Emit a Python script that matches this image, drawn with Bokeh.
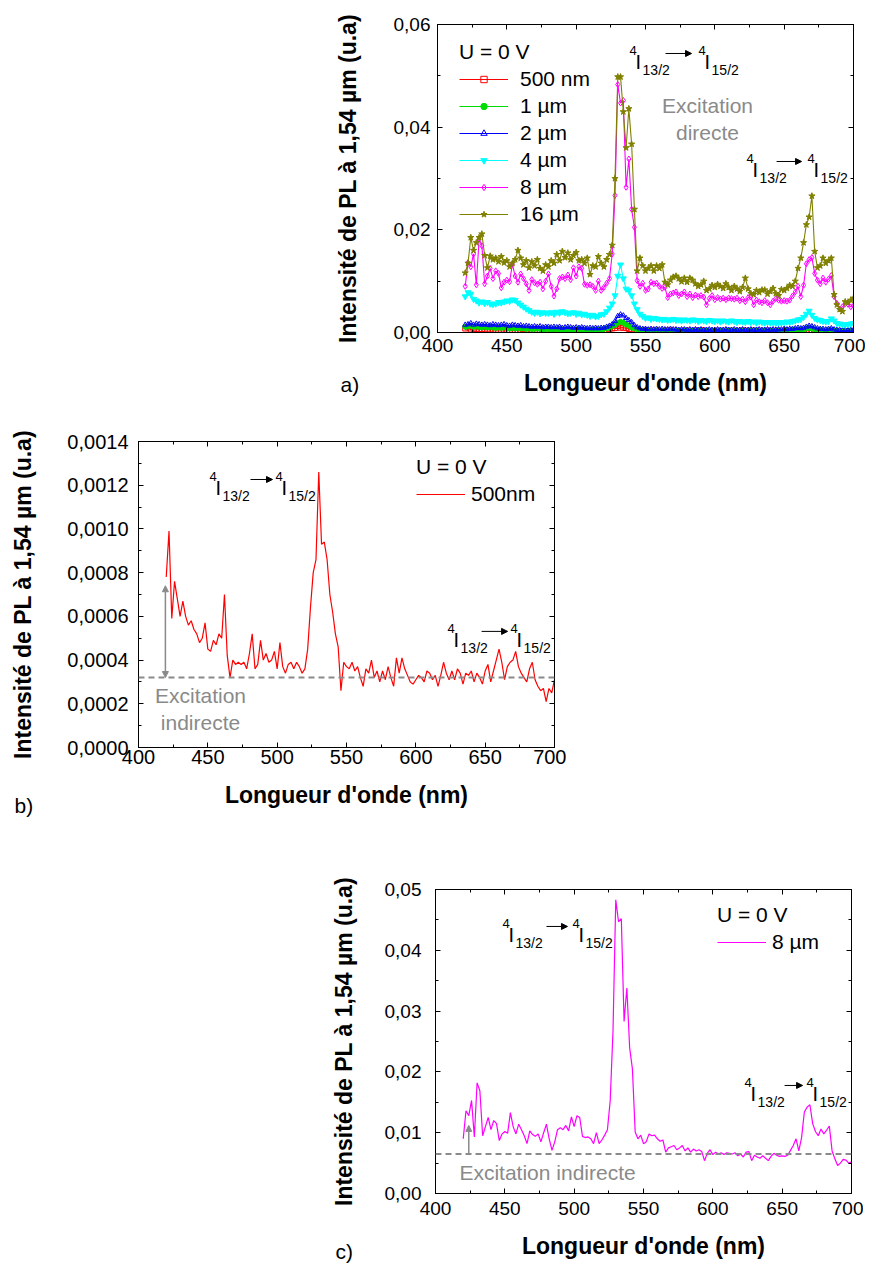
from bokeh.plotting import figure
from bokeh.models import (Range1d, SingleIntervalTicker, CustomJSTickFormatter, LinearAxis,
                          Legend, LegendItem, Label, Arrow, NormalHead, Span, Spacer, Title)
from bokeh.layouts import column, row
from bokeh.embed import file_html
from bokeh.resources import INLINE

FONT = "Liberation Sans"
GRAY = "#8a8a8a"

# ---------------- data ----------------
wavelength = list(range(420, 701, 2))  # nm

# 500 nm film (panel b and panel a), units of 1e-4
pl_500nm_e4 = [
    7.8, 9.9, 5.9, 7.6, 6.8, 6.0, 6.7, 6.0, 5.6, 5.8,
    5.4, 5.2, 4.8, 5.0, 5.7, 4.5, 4.4, 4.9, 4.7, 5.2,
    5.0, 7.0, 4.2, 3.2, 4.0, 3.8, 3.9, 3.8, 3.9, 3.6,
    4.3, 5.2, 3.6, 3.8, 4.9, 4.0, 4.3, 3.9, 4.0, 4.4,
    3.6, 4.8, 3.7, 3.4, 3.8, 3.9, 3.6, 3.9, 3.7, 3.4,
    3.6, 4.5, 6.4, 8.0, 8.6, 12.6, 9.3, 9.4, 8.6, 7.0,
    6.2, 5.2, 4.6, 2.6, 3.9, 3.7, 3.6, 3.9, 3.5, 3.7,
    3.2, 2.8, 3.6, 3.4, 4.0, 3.2, 3.5, 3.0, 3.5, 3.1,
    3.7, 3.2, 2.8, 4.1, 3.4, 4.1, 3.6, 3.3, 3.0, 2.9,
    3.1, 3.3, 3.2, 3.0, 3.5, 3.4, 3.1, 3.3, 2.8, 3.3,
    3.9, 3.4, 3.1, 3.5, 3.1, 3.6, 3.4, 2.9, 3.4, 3.3,
    3.5, 3.0, 3.4, 3.2, 2.9, 3.5, 3.8, 3.0, 3.5, 4.0,
    4.5, 3.9, 3.1, 3.7, 3.9, 4.0, 4.4, 3.7, 3.4, 3.2,
    3.0, 3.6, 3.9, 3.1, 2.8, 2.6, 2.7, 2.1, 2.7, 2.5,
    3.1]

# 1 um, units of 1e-3
pl_1um_e3 = [
    1.1, 1.2, 1.3, 1.1, 1.2, 1.1, 1.0, 1.1, 1.0, 1.1,
    1.0, 0.9, 1.0, 0.9, 1.0, 0.9, 0.8, 0.9, 0.8, 0.9,
    0.8, 0.8, 0.7, 0.8, 0.7, 0.7, 0.8, 0.7, 0.6, 0.7,
    0.7, 0.6, 0.7, 0.6, 0.7, 0.6, 0.6, 0.7, 0.6, 0.6,
    0.6, 0.7, 0.6, 0.5, 0.6, 0.5, 0.6, 0.5, 0.6, 0.6,
    0.7, 0.8, 1.0, 1.2, 1.5, 1.9, 2.1, 1.9, 1.6, 1.3,
    1.0, 0.8, 0.6, 0.5, 0.4, 0.4, 0.4, 0.3, 0.4, 0.4,
    0.3, 0.4, 0.3, 0.4, 0.3, 0.3, 0.4, 0.3, 0.3, 0.4,
    0.3, 0.3, 0.4, 0.3, 0.3, 0.4, 0.3, 0.3, 0.3, 0.4,
    0.3, 0.3, 0.4, 0.3, 0.3, 0.3, 0.4, 0.3, 0.3, 0.3,
    0.4, 0.3, 0.3, 0.3, 0.4, 0.3, 0.3, 0.3, 0.4, 0.3,
    0.3, 0.3, 0.3, 0.4, 0.3, 0.4, 0.4, 0.4, 0.5, 0.5,
    0.5, 0.6, 0.6, 0.8, 0.9, 0.8, 0.6, 0.5, 0.5, 0.4,
    0.4, 0.4, 0.5, 0.4, 0.3, 0.3, 0.3, 0.3, 0.3, 0.3,
    0.3]

# 2 um, units of 1e-3
pl_2um_e3 = [
    1.5, 1.6, 1.8, 1.5, 1.7, 1.6, 1.5, 1.6, 1.5, 1.4,
    1.6, 1.5, 1.4, 1.5, 1.6, 1.4, 1.3, 1.5, 1.4, 1.3,
    1.4, 1.2, 1.3, 1.2, 1.1, 1.2, 1.1, 1.2, 1.0, 1.1,
    1.1, 1.0, 1.1, 1.0, 1.1, 0.9, 1.0, 1.1, 1.0, 0.9,
    1.0, 0.9, 1.0, 0.9, 0.8, 0.9, 0.8, 0.9, 0.8, 0.9,
    0.9, 1.1, 1.3, 1.6, 2.2, 3.2, 3.5, 3.3, 2.8, 2.4,
    2.0, 1.4, 1.0, 0.8, 0.7, 0.7, 0.6, 0.7, 0.6, 0.7,
    0.6, 0.7, 0.6, 0.6, 0.7, 0.6, 0.6, 0.5, 0.6, 0.6,
    0.5, 0.6, 0.5, 0.6, 0.5, 0.6, 0.5, 0.5, 0.6, 0.5,
    0.5, 0.6, 0.5, 0.5, 0.6, 0.5, 0.5, 0.6, 0.5, 0.5,
    0.6, 0.5, 0.5, 0.6, 0.5, 0.5, 0.6, 0.5, 0.5, 0.6,
    0.5, 0.6, 0.5, 0.6, 0.6, 0.7, 0.6, 0.7, 0.7, 0.8,
    0.9, 0.8, 0.9, 1.1, 1.3, 1.2, 1.0, 0.8, 0.7, 0.7,
    0.6, 0.7, 0.8, 0.6, 0.5, 0.5, 0.4, 0.5, 0.4, 0.5,
    0.5]

# 4 um, units of 1e-3
pl_4um_e3 = [
    7.0, 7.8, 7.5, 6.5, 6.2, 5.8, 6.0, 5.7, 5.9, 5.6,
    5.5, 5.6, 5.9, 5.8, 6.0, 6.2, 6.1, 6.4, 6.3, 5.8,
    5.4, 5.0, 4.6, 4.3, 4.0, 3.8, 4.0, 3.7, 3.9, 3.8,
    3.8, 3.9, 3.6, 4.0, 3.8, 4.1, 3.9, 3.7, 3.8, 3.9,
    3.6, 3.8, 3.5, 3.6, 3.4, 3.2, 3.4, 3.1, 3.2, 3.5,
    3.6, 4.1, 4.8, 5.6, 7.2, 11.0, 13.2, 10.5, 8.5, 8.2,
    7.2, 5.6, 4.5, 3.6, 3.2, 2.8, 2.9, 2.6, 2.8, 2.7,
    2.6, 2.5, 2.6, 2.4, 2.5, 2.6, 2.4, 2.5, 2.3, 2.5,
    2.4, 2.3, 2.5, 2.4, 2.2, 2.4, 2.3, 2.2, 2.4, 2.3,
    2.2, 2.3, 2.1, 2.3, 2.2, 2.1, 2.3, 2.2, 2.0, 2.2,
    2.1, 2.0, 2.2, 2.0, 2.1, 1.9, 2.1, 2.0, 1.9, 2.0,
    1.9, 2.0, 1.8, 2.0, 1.9, 2.0, 2.1, 2.0, 2.2, 2.3,
    2.5, 2.6, 3.0, 3.6, 4.2, 3.4, 2.8, 2.5, 2.4, 2.2,
    2.1, 2.2, 2.7, 2.3, 1.8, 1.7, 1.6, 1.5, 1.6, 1.7,
    1.8]

# 8 um film (panel c and panel a), units of 1e-3
pl_8um_e3 = [
    9.0, 13.6, 12.8, 15.3, 9.3, 18.2, 16.9, 9.5, 11.0, 12.5,
    10.5, 12.0, 11.5, 8.7, 9.8, 10.2, 9.9, 13.3, 11.0, 9.8,
    11.4, 10.5, 9.5, 8.2, 10.3, 9.7, 9.4, 9.8, 8.5, 10.0,
    11.4, 9.0, 7.1, 8.5, 10.5, 10.8, 10.5, 11.2, 10.3, 12.6,
    11.0, 12.8, 12.5, 9.4, 9.2, 9.3, 9.0, 8.2, 10.0, 8.2,
    8.8, 9.6, 10.5, 15.3, 26.7, 48.3, 44.7, 45.2, 28.3, 33.8,
    24.0, 20.5, 10.1, 9.0, 9.6, 8.2, 8.5, 9.8, 9.5, 9.6,
    9.0, 8.6, 8.8, 6.8, 7.5, 7.7, 7.9, 7.2, 7.5, 7.9,
    7.0, 7.5, 6.8, 7.3, 7.0, 7.2, 6.9, 5.4, 6.6, 7.2,
    6.4, 6.8, 6.5, 6.7, 6.4, 6.7, 6.6, 6.5, 6.7, 6.2,
    6.5, 6.0, 6.8, 6.9, 5.4, 6.3, 6.0, 5.8, 6.2, 5.8,
    5.4, 6.1, 6.6, 6.3, 6.1, 6.2, 6.1, 6.3, 7.1, 7.9,
    9.0, 7.0, 9.2, 13.4, 14.2, 14.6, 11.5, 10.2, 9.5, 10.6,
    9.8, 10.4, 11.1, 7.0, 5.7, 4.6, 5.0, 5.6, 5.5, 5.0,
    5.2]

# 16 um, units of 1e-3
pl_16um_e3 = [
    11.6, 13.5, 18.5, 16.0, 17.5, 18.5, 19.2, 15.0, 12.6, 14.9,
    14.2, 14.5, 13.8, 14.8, 13.6, 14.0, 12.8, 13.5, 14.2, 16.0,
    14.5, 13.2, 14.0, 12.6, 13.8, 13.0, 14.2, 12.5, 12.0, 13.2,
    12.8, 14.0, 13.5, 15.2, 14.0, 15.8, 14.6, 15.5, 14.2, 15.0,
    15.6, 14.0, 14.2, 13.5, 14.5, 11.3, 13.0, 12.8, 14.8, 13.5,
    12.8, 14.2, 15.2, 17.0, 30.0, 49.8, 49.8, 43.0, 36.0, 43.6,
    36.7, 24.0, 12.0, 14.5, 13.0, 12.0, 12.5, 13.0, 12.0, 13.0,
    12.5, 13.2, 9.8, 9.3, 10.2, 10.8, 11.0, 10.5, 9.9, 10.6,
    9.8, 10.6, 10.2, 9.5, 9.0, 9.3, 10.0, 8.2, 8.5, 9.2,
    8.8, 9.4, 9.0, 8.6, 9.5, 8.8, 8.2, 9.0, 8.5, 8.0,
    8.8, 10.6, 8.5, 7.6, 7.4, 8.2, 7.8, 8.3, 8.3, 7.5,
    8.0, 8.6, 7.6, 7.2, 8.4, 8.2, 8.6, 9.2, 9.0, 10.0,
    12.5, 14.5, 17.5, 21.0, 22.5, 26.6, 15.8, 12.6, 13.0, 14.5,
    13.5, 14.0, 14.5, 7.4, 5.4, 4.5, 4.1, 6.0, 5.8, 6.3,
    6.7]

pl_500nm = [v * 1e-4 for v in pl_500nm_e4]
pl_1um = [v * 1e-3 for v in pl_1um_e3]
pl_2um = [v * 1e-3 for v in pl_2um_e3]
pl_4um = [v * 1e-3 for v in pl_4um_e3]
pl_8um = [v * 1e-3 for v in pl_8um_e3]
pl_16um = [v * 1e-3 for v in pl_16um_e3]

series_labels = ["500 nm", "1 µm", "2 µm", "4 µm", "8 µm", "16 µm"]
series_values = [pl_500nm, pl_1um, pl_2um, pl_4um, pl_8um, pl_16um]

baseline_500nm = 0.00032
baseline_8um = 0.0065

X_TITLE = "Longueur d'onde (nm)"
Y_TITLE = "Intensité de PL à 1,54 µm (u.a)"

FRAME_W = 416
BORDER_L = 138
BORDER_R = 12
FIG_W = BORDER_L + FRAME_W + BORDER_R


def make_fig(ymax, ytick, digits, h, bt, bb, tick_fs, xls, xas, yls, yas):
    p = figure(width=FIG_W, height=h, x_range=Range1d(400, 700), y_range=Range1d(0, ymax),
               output_backend="svg", toolbar_location=None,
               min_border_left=BORDER_L, min_border_right=BORDER_R,
               min_border_top=bt, min_border_bottom=bb,
               x_axis_label=X_TITLE, y_axis_label=Y_TITLE)
    p.xgrid.visible = False
    p.ygrid.visible = False
    p.outline_line_color = "black"
    p.outline_line_alpha = 1
    p.outline_line_width = 1
    p.background_fill_color = "white"
    p.border_fill_color = "white"
    bottom = p.below[0]
    left = p.left[0]
    bottom.ticker = SingleIntervalTicker(interval=50, num_minor_ticks=2)
    left.ticker = SingleIntervalTicker(interval=ytick, num_minor_ticks=2)
    left.formatter = CustomJSTickFormatter(
        code="return tick.toFixed(%d).replace('.', ',');" % digits)
    top = LinearAxis(ticker=SingleIntervalTicker(interval=50, num_minor_ticks=2))
    right = LinearAxis(ticker=SingleIntervalTicker(interval=ytick, num_minor_ticks=2))
    p.add_layout(top, "above")
    p.add_layout(right, "right")
    for ax in [bottom, left, top, right]:
        ax.axis_line_color = "black"
        ax.axis_line_width = 1
        ax.major_tick_in = 5
        ax.major_tick_out = 0
        ax.minor_tick_in = 3
        ax.minor_tick_out = 0
        ax.major_tick_line_color = "black"
        ax.minor_tick_line_color = "black"
        ax.major_label_text_font = FONT
        ax.major_label_text_color = "black"
        ax.major_label_text_font_size = "%dpx" % tick_fs
        ax.axis_label_text_font = FONT
        ax.axis_label_text_font_style = "bold"
        ax.axis_label_text_font_size = "23px"
        ax.axis_label_text_color = "black"
    for ax in [top, right]:
        ax.major_label_text_font_size = "1px"
        ax.major_label_text_color = None
        ax.major_label_standoff = 0
    bottom.major_label_standoff = xls
    bottom.axis_label_standoff = xas
    left.major_label_standoff = yls
    left.axis_label_standoff = yas
    return p


def transition(p, x0, y0, dpx, dpy, a0, alen, s2):
    kw = dict(text_font=FONT, text_color="black", text_baseline="alphabetic", text_align="left")
    for off in (0, s2):
        p.add_layout(Label(x=x0, y=y0, x_offset=off, y_offset=12, text="4",
                           text_font_size="13px", **kw))
        p.add_layout(Label(x=x0, y=y0, x_offset=off + 6, y_offset=0, text="I",
                           text_font_size="20px", **kw))
    p.add_layout(Label(x=x0, y=y0, x_offset=13, y_offset=-8, text="13/2",
                       text_font_size="14px", **kw))
    p.add_layout(Label(x=x0, y=y0, x_offset=s2 + 13, y_offset=-8, text="15/2",
                       text_font_size="14px", **kw))
    ya = y0 + 9 * dpy
    p.add_layout(Arrow(x_start=x0 + a0 * dpx, y_start=ya, x_end=x0 + (a0 + alen) * dpx, y_end=ya,
                       line_color="black", line_width=1,
                       end=NormalHead(size=6, fill_color="black", line_color="black")))


def gray_text(p, x, y, txt):
    p.add_layout(Label(x=x, y=y, text=txt, text_font=FONT, text_font_size="21px",
                       text_color=GRAY, text_align="center", text_baseline="middle"))


def panel_tag(p, left_offset, pull_up, txt):
    # panel letter drawn in the bottom side panel (annotations in the frame are clipped)
    t = Title(text=txt, align="left", offset=left_offset, vertical_align="top",
              text_font=FONT, text_font_size="21px", text_font_style="normal",
              text_color="black")
    try:
        t.standoff = -pull_up
    except Exception:
        pass
    p.add_layout(t, "below")


def style_legend(leg, standoff):
    leg.border_line_alpha = 0
    leg.background_fill_alpha = 0
    leg.label_text_font = FONT
    leg.label_text_font_size = "21px"
    leg.label_text_color = "black"
    leg.title_text_font = FONT
    leg.title_text_font_size = "21px"
    leg.title_text_font_style = "normal"
    leg.title_text_color = "black"
    leg.title_standoff = 3
    leg.glyph_width = 49
    leg.glyph_height = 16
    leg.label_height = 16
    leg.spacing = 3
    leg.padding = 5
    leg.margin = 0
    leg.label_standoff = standoff


DPX = 300.0 / FRAME_W

# ---------------- panel a ----------------
pa = make_fig(0.06, 0.02, 2, 420, 24, 88, 19, 6, 15, 7, 30)
colors = ["#FF0000", "#00DD00", "#0000FF", "#00FFFF", "#FF00FF", "#808000"]
markers = ["square", "circle", "triangle", "inverted_triangle", "diamond", "star"]
filled = [False, True, False, True, False, True]
msize = [5, 5, 5, 6, 6, 6.5]
items = []
for lab, ys, c, m, f, s in zip(series_labels, series_values, colors, markers, filled, msize):
    lr = pa.line(wavelength, ys, line_color=c, line_width=1.1)
    sr = pa.scatter(wavelength, ys, marker=m, size=s, line_color=c, line_width=1,
                    fill_color=c, fill_alpha=1.0 if f else 0.0)
    items.append(LegendItem(label=lab, renderers=[lr, sr]))
leg_a = Legend(items=items, location=(17, 101), title="U = 0 V")
style_legend(leg_a, 12)
pa.add_layout(leg_a)
dpy_a = 0.06 / 308
transition(pa, 538.5, 0.0526, DPX, dpy_a, 36, 26, 69)
transition(pa, 622.9, 0.03156, DPX, dpy_a, 30, 25, 61)
gray_text(pa, 594.7, 0.0442, "Excitation")
gray_text(pa, 594.7, 0.0390, "directe")
panel_tag(pa, -97, 52, "a)")

# ---------------- panel b ----------------
pb = make_fig(0.0014, 0.0002, 4, 410, 21, 83, 20, 2, 15, 10, 28)
pb.add_layout(Span(location=baseline_500nm, dimension="width", line_color=GRAY,
                   line_dash="6 4", line_width=2))
lb = pb.line(wavelength, pl_500nm, line_color="#FF0000", line_width=1.2)
leg_b = Legend(items=[LegendItem(label="500nm", renderers=[lb])], location=(273, 236),
               title="U = 0 V")
style_legend(leg_b, 6)
pb.add_layout(leg_b)
pb.add_layout(Arrow(x_start=419.4, y_start=baseline_500nm, x_end=419.4, y_end=0.00074,
                    line_color=GRAY, line_width=1.5,
                    start=NormalHead(size=6, fill_color=GRAY, line_color=GRAY),
                    end=NormalHead(size=6, fill_color=GRAY, line_color=GRAY)))
dpy_b = 0.0014 / 306
transition(pb, 451.2, 0.001185, DPX, dpy_b, 41, 22, 66)
transition(pb, 622.9, 0.000490, DPX, dpy_b, 34, 26, 63)
gray_text(pb, 444.7, 0.000236, "Excitation")
gray_text(pb, 444.7, 0.000114, "indirecte")
panel_tag(pb, -124, 34, "b)")

# ---------------- panel c ----------------
pc = make_fig(0.05, 0.01, 2, 433, 59, 70, 19, 8, 15, 14, 25)
pc.add_layout(Span(location=baseline_8um, dimension="width", line_color=GRAY,
                   line_dash="6 4", line_width=2))
lc = pc.line(wavelength, pl_8um, line_color="#FF00FF", line_width=1.2)
leg_c = Legend(items=[LegendItem(label="8 µm", renderers=[lc])], location=(277, 234),
               title="U = 0 V")
style_legend(leg_c, 6)
pc.add_layout(leg_c)
pc.add_layout(Arrow(x_start=424.0, y_start=baseline_8um, x_end=424.0, y_end=0.0112,
                    line_color=GRAY, line_width=1.5,
                    end=NormalHead(size=6, fill_color=GRAY, line_color=GRAY)))
dpy_c = 0.05 / 304
transition(pc, 448.3, 0.04244, DPX, dpy_c, 44, 21, 70)
transition(pc, 622.9, 0.01629, DPX, dpy_c, 40, 18, 62)
gray_text(pc, 480.8, 0.00345, "Excitation indirecte")
panel_tag(pc, -100, 44, "c)")

# page placement: frames of a and c sit further right than b
row_a = row(Spacer(width=437 - BORDER_L, height=420), pa)
row_b = row(pb)
row_c = row(Spacer(width=435 - BORDER_L, height=433), pc)
layout = column(row_a, row_b, row_c)
open("out.html", "w").write(file_html(layout, INLINE))
